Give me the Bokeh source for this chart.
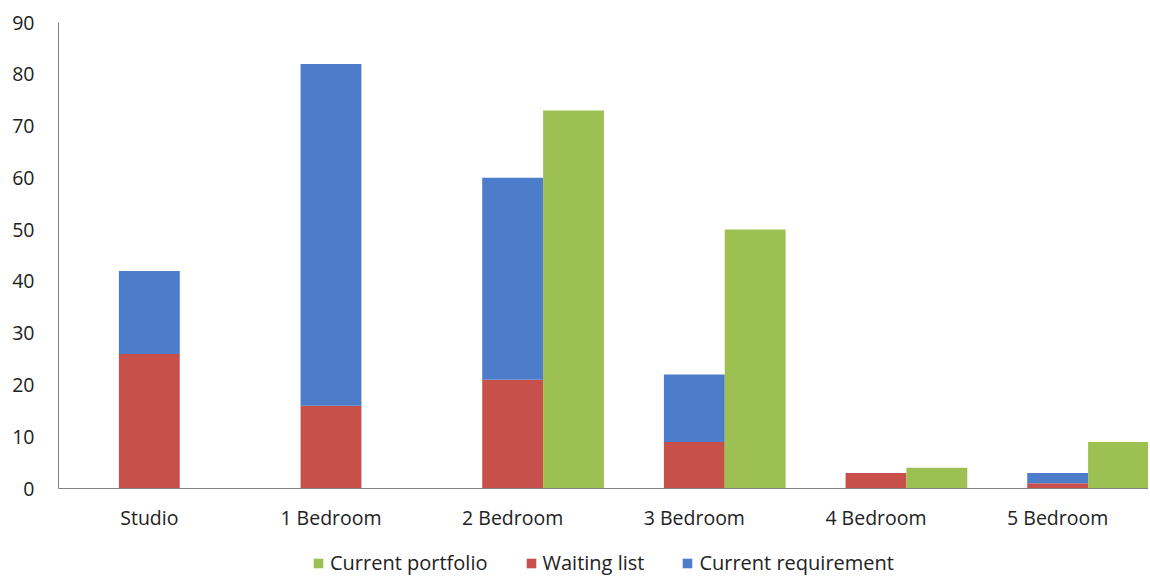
from bokeh.plotting import figure
from bokeh.models import FactorRange, Range1d, Legend, LegendItem, ColumnDataSource
from bokeh.layouts import column
from bokeh.transform import dodge
from bokeh.embed import file_html
from bokeh.resources import INLINE

categories = ["Studio", "1 Bedroom", "2 Bedroom", "3 Bedroom", "4 Bedroom", "5 Bedroom"]
waiting_list = [26, 16, 21, 9, 3, 1]
current_requirement = [16, 66, 39, 13, 0, 2]
current_portfolio = [0, 0, 73, 50, 4, 9]
y_ticks = [0, 10, 20, 30, 40, 50, 60, 70, 80, 90]
legend_labels = ["Current portfolio", "Waiting list", "Current requirement"]

RED = "#C7504B"
BLUE = "#4D7CCB"
GREEN = "#9CC152"
FONT = "Open Sans"

source = ColumnDataSource(dict(
    cat=categories,
    waiting=waiting_list,
    requirement=current_requirement,
    portfolio=current_portfolio,
))

x_range = FactorRange(factors=categories, range_padding=0)

p = figure(x_range=x_range, y_range=Range1d(0, 90),
           frame_width=1090, frame_height=466,
           output_backend="svg", toolbar_location=None)

p.min_border_left = 58
p.min_border_right = 0
p.min_border_top = 22
p.min_border_bottom = 50

p.vbar_stack(["waiting", "requirement"], x="cat", width=0.335, source=source,
             color=[RED, BLUE], line_color=None)
p.vbar(x=dodge("cat", 0.335, range=x_range), top="portfolio", width=0.335,
       source=source, color=GREEN, line_color=None)

p.yaxis.ticker = y_ticks
for ax in (p.xaxis[0], p.yaxis[0]):
    ax.axis_line_color = "#808080"
    ax.axis_line_width = 1
    ax.major_tick_line_color = None
    ax.minor_tick_line_color = None
    ax.major_label_text_font = FONT
    ax.major_label_text_font_size = "19.5px"
    ax.major_label_text_color = "#222222"
p.yaxis.major_label_standoff = 18
p.xaxis.major_label_standoff = 9

p.xgrid.grid_line_color = None
p.ygrid.grid_line_color = None
p.outline_line_color = None

# legend strip below the chart (same series, drawn out of view, only the legend shows)
p2 = figure(x_range=x_range, y_range=Range1d(1000, 1001),
            frame_width=1090, frame_height=38,
            x_axis_location=None, y_axis_location=None,
            output_backend="svg", toolbar_location=None)
p2.min_border_left = 58
p2.min_border_right = 0
p2.min_border_top = 0
p2.min_border_bottom = 0
p2.outline_line_color = None
p2.grid.visible = False

lg_stack = p2.vbar_stack(["waiting", "requirement"], x="cat", width=0.335, source=source,
                         color=[RED, BLUE], line_color=None)
lg_green = p2.vbar(x=dodge("cat", 0.335, range=x_range), top="portfolio", width=0.335,
                   source=source, color=GREEN, line_color=None)

legend = Legend(items=[
    LegendItem(label=legend_labels[0], renderers=[lg_green]),
    LegendItem(label=legend_labels[1], renderers=[lg_stack[0]]),
    LegendItem(label=legend_labels[2], renderers=[lg_stack[1]]),
], orientation="horizontal", location=(254, 0))
legend.label_text_font = FONT
legend.label_text_font_size = "20px"
legend.label_text_color = "#222222"
legend.glyph_width = 12
legend.glyph_height = 12
legend.spacing = 37
legend.label_standoff = 6
legend.border_line_color = None
legend.background_fill_alpha = 0
legend.padding = 0
legend.margin = 0
p2.add_layout(legend, "center")

layout = column(p, p2, spacing=0)
open("out.html", "w").write(file_html(layout, INLINE))
